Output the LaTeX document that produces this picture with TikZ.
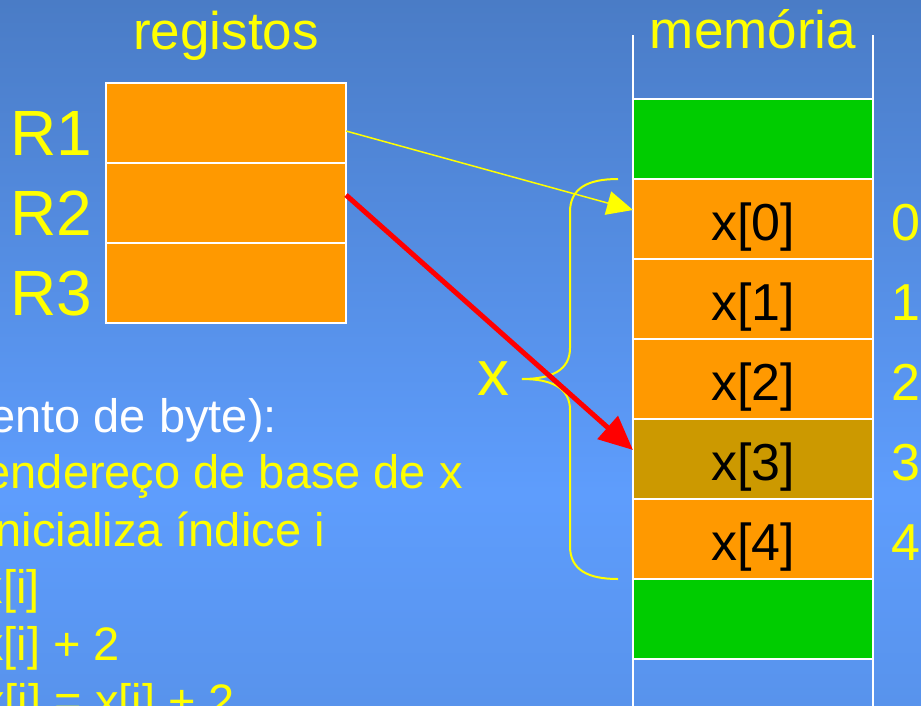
\documentclass[tikz,border=0pt]{standalone}
\usepackage{fontspec}
\setmainfont{Liberation Sans}
\usetikzlibrary{arrows.meta,calc}

\definecolor{bgtop}{HTML}{4A7CC6}
\definecolor{bgmid}{HTML}{5E9DFD}
\definecolor{bgbot}{HTML}{5893EC}
\definecolor{cellorange}{HTML}{FF9900}
\definecolor{cellgreen}{HTML}{00CC00}
\definecolor{cellgold}{HTML}{CC9900}
\definecolor{slideyellow}{HTML}{FFFF00}
\definecolor{ptrred}{HTML}{FF0000}

% slide background: darker at the top, brightest a little below the middle
\pgfdeclareverticalshading{slidebg}{100bp}{color(0bp)=(bgbot); color(25bp)=(bgbot); color(40bp)=(bgmid); color(75bp)=(bgtop); color(100bp)=(bgtop)}

\begin{document}
\begin{tikzpicture}[x=1pt,y=-1pt,
  cellbox/.style={draw=white, line width=2pt, minimum width=240pt, minimum height=80pt, inner sep=0pt, outer sep=0pt},
  regcell/.style={cellbox, fill=cellorange},
  memline/.style={draw=white, line width=2pt},
  celltext/.style={font=\fontsize{52}{60}\selectfont, text=black, inner sep=0pt, anchor=base},
  title/.style={font=\fontsize{53}{62}\selectfont, text=slideyellow, inner sep=0pt, anchor=base},
  reglabel/.style={font=\fontsize{64}{72}\selectfont, text=slideyellow, inner sep=0pt, anchor=base west},
  index/.style={font=\fontsize{52}{60}\selectfont, text=slideyellow, inner sep=0pt, anchor=base west},
  codeline/.style={font=\fontsize{47}{56}\selectfont, text=slideyellow, inner sep=0pt, anchor=base east},
  ptr/.style={draw=slideyellow, line width=1.5pt, -{Triangle[length=26pt,width=24pt]}},
  ptrbold/.style={draw=ptrred, line width=5pt, -{Triangle[length=34pt,width=30pt]}},
  bracestroke/.style={draw=slideyellow, line width=2pt}
]
\useasboundingbox (0,0) rectangle (921,705);
\clip (0,0) rectangle (921,705);
\shade[shading=slidebg] (0,0) rectangle (921,705);

% titles
\node[title] (ttlreg) at (226,49) {registos};
\node[title] (ttlmem) at (753,48) {memória};

% register file
\node[regcell] (r1) at (226,123) {};
\node[regcell] (r2) at (226,203) {};
\node[regcell] (r3) at (226,283) {};
\node[reglabel] (lr1) at (10,155) {R1};
\node[reglabel] (lr2) at (10,235) {R2};
\node[reglabel] (lr3) at (10,315) {R3};

% memory column
\coordinate (memTL) at (633,35);
\coordinate (memTR) at (873,35);
\coordinate (memBL) at (633,720);
\coordinate (memBR) at (873,720);
\node[cellbox, fill=cellgreen]  (g0) at (753,139) {};
\node[cellbox, fill=cellorange] (m0) at (753,219) {};
\node[cellbox, fill=cellorange] (m1) at (753,299) {};
\node[cellbox, fill=cellorange] (m2) at (753,379) {};
\node[cellbox, fill=cellgold]   (m3) at (753,459) {};
\node[cellbox, fill=cellorange] (m4) at (753,539) {};
\node[cellbox, fill=cellgreen]  (g1) at (753,619) {};
\node[cellbox]                  (e1) at (753,699) {};
\draw[memline] (memTL) -- (memBL);
\draw[memline] (memTR) -- (memBR);

\node[celltext] (x0) at (753,240) {x[0]};
\node[celltext] (x1) at (753,320) {x[1]};
\node[celltext] (x2) at (753,400) {x[2]};
\node[celltext] (x3) at (753,480) {x[3]};
\node[celltext] (x4) at (753,560) {x[4]};

\node[index] (i0) at (891,240) {0};
\node[index] (i1) at (891,320) {1};
\node[index] (i2) at (891,400) {2};
\node[index] (i3) at (891,480) {3};
\node[index] (i4) at (891,560) {4};

% brace spanning the array x
\draw[bracestroke] (618,179) .. controls (588,179) and (570,188) .. (570,212)
  -- (570,348) .. controls (570,370) and (552,379) .. (522,379)
  .. controls (552,379) and (570,388) .. (570,410)
  -- (570,546) .. controls (570,570) and (588,579) .. (618,579);
\node[font=\fontsize{64}{72}\selectfont, text=slideyellow, inner sep=0pt, anchor=base] (xname) at (493,395) {x};

% code lines
\node[codeline, text=white] (c1) at (277,432) {ento de byte):};
\node[codeline] (c2) at (463,488) {endereço de base de x};
\node[codeline] (c3) at (325,546) {nicializa índice i};
\node[codeline] (c4) at (40,603) {x[i]};
\node[codeline] (c5) at (120,660) {x[i] + 2};
\node[codeline] (c6) at (235,717) {x[i] = x[i] + 2};

% pointers
\draw[ptr] ($(r1.east)+(0,8)$) -- ($(m0.west)+(0,-9)$);
\draw[ptrbold] ($(r2.east)+(0,-8)$) -- ($(m3.west)+(0,-9)$);
\end{tikzpicture}
\end{document}
